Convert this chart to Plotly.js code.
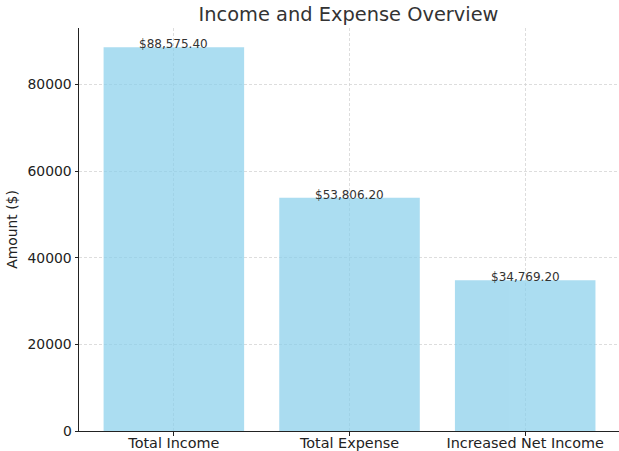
<!DOCTYPE html>
<html><head><meta charset="utf-8">
<script src="https://cdn.plot.ly/plotly-3.0.1.min.js"></script>
<style>html,body{margin:0;padding:0;background:#fff}#chart{width:619px;height:451px}</style>
</head><body><div id="chart"></div>
<script>
const categories = ["Total Income", "Total Expense", "Increased Net Income"];
const amounts = [88575.40, 53806.20, 34769.20];
const labels = ["$88,575.40", "$53,806.20", "$34,769.20"];
const yTicks = [0, 20000, 40000, 60000, 80000];

const idx = categories.map((_, i) => i);
const trace = {
  type: 'bar', x: idx, y: amounts, width: 0.8,
  marker: {color: '#87CEEB', line: {width: 0}}, opacity: 0.7,
  hoverinfo: 'none'
};
const annotations = idx.map(i => ({
  x: i, y: amounts[i], xref: 'x', yref: 'y', text: labels[i], showarrow: false,
  yanchor: 'bottom', yshift: -6,
  font: {family: 'DejaVu Sans', size: 12, color: '#333333'}
}));
const tf = {family: 'DejaVu Sans', size: 13.9, color: '#222'};
const xf = {family: 'DejaVu Sans', size: 14.4, color: '#222'};
const layout = {
  width: 619, height: 451,
  margin: {l: 79, r: 0, t: 28, b: 20},
  paper_bgcolor: '#fff', plot_bgcolor: '#fff',
  font: tf,
  title: {text: 'Income and Expense Overview', x: 0.563, xanchor: 'center', y: 0.968, yanchor: 'middle',
          font: {family: 'DejaVu Sans', size: 19.4, color: '#333'}},
  xaxis: {range: [-0.54, 2.534], tickvals: idx, ticktext: categories,
          showgrid: true, gridcolor: '#d4d4d4', griddash: '3px,2px', gridwidth: 0.8,
          showline: true, linecolor: '#222', linewidth: 1, ticks: 'outside', ticklen: 3.5, tickcolor: '#222',
          ticklabelstandoff: -5,
          tickfont: xf, zeroline: false, fixedrange: true},
  yaxis: {range: [0, 93004], tickvals: yTicks, ticktext: yTicks.map(String),
          showgrid: true, gridcolor: '#d4d4d4', griddash: '3px,2px', gridwidth: 0.8,
          showline: true, linecolor: '#222', linewidth: 1, ticks: 'outside', ticklen: 3.5, tickcolor: '#222',
          tickfont: tf, zeroline: false,
          title: {text: 'Amount ($)', standoff: 6, font: tf}, fixedrange: true},
  annotations: annotations,
  showlegend: false
};
Plotly.newPlot('chart', [trace], layout, {displayModeBar: false, staticPlot: true});
</script></body></html>
